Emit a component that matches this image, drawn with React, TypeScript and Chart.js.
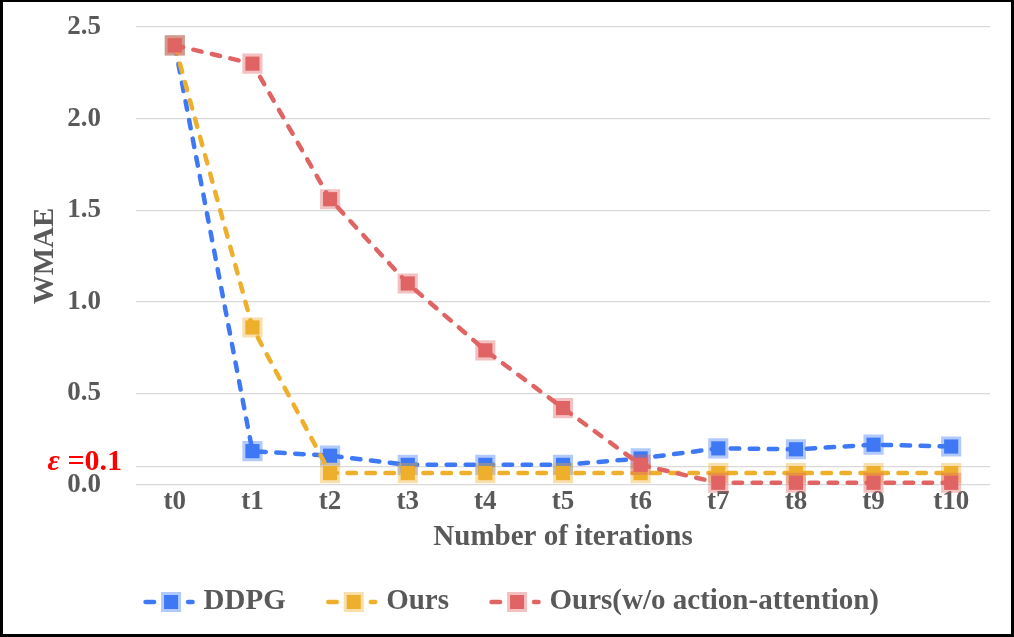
import React, { useEffect, useRef } from 'react';
import { Chart, registerables } from 'chart.js';

Chart.register(...registerables);

const categories = ['t0', 't1', 't2', 't3', 't4', 't5', 't6', 't7', 't8', 't9', 't10'];
const ddpgValues = [2.4, 0.185, 0.16, 0.11, 0.11, 0.11, 0.145, 0.2, 0.195, 0.22, 0.21];
const oursValues = [2.4, 0.86, 0.065, 0.065, 0.065, 0.065, 0.065, 0.065, 0.065, 0.065, 0.065];
const oursNoAttnValues = [2.4, 2.3, 1.56, 1.1, 0.735, 0.42, 0.11, 0.012, 0.012, 0.012, 0.012];
const yTickValues = [0, 0.1, 0.5, 1.0, 1.5, 2.0, 2.5];
const epsilon = 0.1;

const seriesNames = ['DDPG', 'Ours', 'Ours(w/o action-attention)'];
const seriesColors = ['#3F78F4', '#EEAF2C', '#E06464'];
const seriesBorders = ['rgba(63,120,244,0.4)', 'rgba(238,175,44,0.4)', 'rgba(224,100,100,0.4)'];

const FONT = '"Liberation Serif", "Times New Roman", serif';
const GREY = '#595959';

function makeLegendImage(color: string, border: string): HTMLCanvasElement {
  // 74px wide image, drawn centred on a 54px legend box; visible content from 18 to 70
  const c = document.createElement('canvas');
  c.width = 74;
  c.height = 24;
  const ctx = c.getContext('2d')!;
  const off = 18;
  ctx.strokeStyle = color;
  ctx.lineWidth = 4.5;
  ctx.lineCap = 'round';
  ctx.beginPath();
  ctx.moveTo(off + 2.5, 12);
  ctx.lineTo(off + 11, 12);
  ctx.moveTo(off + 45, 12);
  ctx.lineTo(off + 49.5, 12);
  ctx.stroke();
  const cx = off + 28;
  ctx.fillStyle = color;
  ctx.fillRect(cx - 7, 5, 14, 14);
  ctx.strokeStyle = border;
  ctx.lineWidth = 6;
  ctx.strokeRect(cx - 7, 5, 14, 14);
  return c;
}

export default function App() {
  const canvasRef = useRef<HTMLCanvasElement | null>(null);

  useEffect(() => {
    if (!canvasRef.current) return;
    const legendImages = seriesColors.map((c, i) => makeLegendImage(c, seriesBorders[i]));
    const valueSets = [ddpgValues, oursValues, oursNoAttnValues];

    const epsPlugin = {
      id: 'epsLabel',
      afterDraw(chart: any) {
        const y = chart.scales.y.getPixelForValue(epsilon) - 4;
        const ctx = chart.ctx;
        ctx.save();
        ctx.fillStyle = '#FF0000';
        ctx.textBaseline = 'middle';
        ctx.textAlign = 'right';
        const rightX = chart.chartArea.left - 14;
        const rest = '=' + epsilon.toFixed(1);
        ctx.font = `bold 30px ${FONT}`;
        ctx.fillText(rest, rightX, y);
        const w = ctx.measureText(rest).width;
        ctx.font = `italic bold 30px ${FONT}`;
        ctx.fillText('\u03b5 ', rightX - w, y);
        ctx.restore();
      },
    };

    const chart = new Chart(canvasRef.current, {
      type: 'line',
      data: {
        labels: categories,
        datasets: valueSets.map((vals, i) => ({
          label: seriesNames[i],
          data: vals,
          yAxisID: 'y',
          borderColor: seriesColors[i],
          backgroundColor: seriesColors[i],
          borderWidth: 4.5,
          borderDash: [8.5, 10.5],
          borderCapStyle: 'round',
          pointStyle: 'rect',
          pointRadius: 10,
          pointHoverRadius: 10,
          pointBackgroundColor: seriesColors[i],
          pointBorderColor: seriesBorders[i],
          pointBorderWidth: 6,
          tension: 0,
          clip: false,
          order: 3 - i,
        })) as any,
      },
      options: {
        responsive: false,
        animation: false,
        events: [],
        layout: { padding: { top: 25, right: 0, bottom: 7.5, left: 0 } },
        plugins: {
          tooltip: { enabled: false },
          legend: {
            position: 'bottom',
            labels: {
              usePointStyle: true,
              pointStyleWidth: 54,
              padding: 32,
              color: GREY,
              font: { family: FONT, size: 29, weight: 'bold' },
              sort: (a: any, b: any) => a.datasetIndex - b.datasetIndex,
              generateLabels: (chart: any) => {
                const items = Chart.defaults.plugins.legend.labels.generateLabels(chart);
                return items.map((it: any) => ({ ...it, pointStyle: legendImages[it.datasetIndex], fontColor: GREY }));
              },
            },
          },
        },
        scales: {
          x: {
            type: 'category',
            offset: true,
            grid: { display: false, drawTicks: false },
            border: { display: false },
            ticks: { color: GREY, padding: 1, font: { family: FONT, size: 27, weight: 'bold' } },
            title: {
              display: true,
              text: 'Number of iterations',
              color: GREY,
              padding: { top: 0, bottom: 1 },
              font: { family: FONT, size: 29, weight: 'bold' },
            },
            afterFit: (scale: any) => {
              scale.height = 70.5;
            },
          },
          y: {
            position: 'left',
            min: 0,
            max: 2.5,
            grid: { color: '#D9D9D9', lineWidth: 1.3, drawTicks: true, tickLength: 35, tickColor: 'rgba(0,0,0,0)' },
            border: { display: false },
            afterBuildTicks: (scale: any) => {
              scale.ticks = yTickValues.map((v) => ({ value: v }));
            },
            ticks: {
              color: GREY,
              padding: 0,
              font: { family: FONT, size: 27, weight: 'bold' },
              callback: (v: any) => (Math.abs(Number(v) - epsilon) < 1e-9 ? '' : Number(v).toFixed(1)),
            },
            title: {
              display: true,
              text: 'WMAE',
              color: GREY,
              padding: { top: 25.6, bottom: 0 },
              font: { family: FONT, size: 29, weight: 'bold' },
            },
            afterFit: (scale: any) => {
              scale.width = 133;
            },
          },
          yRight: {
            position: 'right',
            display: true,
            grid: { display: false, drawTicks: false },
            border: { display: false },
            ticks: { display: false },
            afterFit: (scale: any) => {
              scale.width = 21;
            },
          },
        },
      } as any,
      plugins: [epsPlugin],
    });
    return () => chart.destroy();
  }, []);

  return (
    <div
      style={{
        position: 'absolute',
        left: 0,
        top: 0,
        width: 1014,
        height: 637,
        boxSizing: 'border-box',
        borderStyle: 'solid',
        borderColor: '#000',
        borderWidth: '2px 3px 3px 3px',
        background: '#fff',
      }}
    >
      <canvas ref={canvasRef} width={1008} height={632} style={{ display: 'block', width: 1008, height: 632 }} />
    </div>
  );
}
